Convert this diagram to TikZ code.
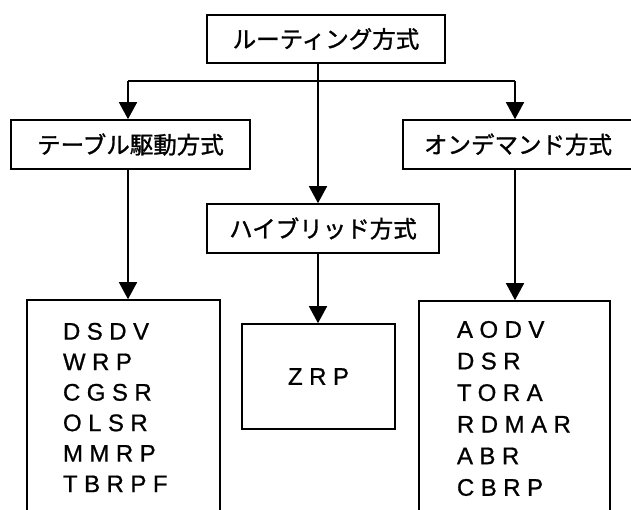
\documentclass[tikz,border=0pt]{standalone}
\usepackage{fontspec}
\setmainfont{Liberation Sans}
\newfontfamily\jpfont[FakeBold=1.2]{Noto Sans CJK JP}
\newfontfamily\listfont[LetterSpace=27,FakeBold=0.8]{Liberation Sans}
\usetikzlibrary{arrows.meta}
\begin{document}
\begin{tikzpicture}[x=1pt,y=-1pt,
  box/.style={draw, line width=1.6pt, inner sep=0pt, font=\jpfont\fontsize{23.5pt}{23.5pt}\selectfont},
  listbox/.style={draw, line width=1.6pt, inner ysep=0pt, align=left, font=\listfont\fontsize{24pt}{30.5pt}\selectfont},
  conn/.style={line width=1.6pt},
  arr/.style={line width=1.6pt, -{Triangle[width=18pt,length=17pt]}}]
\useasboundingbox (0,0) rectangle (631,510);
\fill[white] (0,0) rectangle (631,510);

\node[box, minimum width=238pt, minimum height=48pt] (top) at (326,39) {ルーティング方式};
\node[box, minimum width=239pt, minimum height=49pt] (tbl) at (130.5,144.5) {テーブル駆動方式};
\node[box, minimum width=230pt, minimum height=49pt] (ond) at (518,144.5) {オンデマンド方式};
\node[box, minimum width=232pt, minimum height=49pt] (hyb) at (323,228.5) {ハイブリッド方式};

\node[listbox, inner xsep=36pt, text width=121pt, minimum height=215pt] (lstL) at (123.5,407.5)
  {DSDV\\WRP\\CGSR\\OLSR\\MMRP\\TBRPF};
\node[draw, line width=1.6pt, minimum width=153pt, minimum height=105pt, font=\listfont\fontsize{24pt}{24pt}\selectfont] (zrp) at (318.5,376.5) {ZRP};
\node[listbox, inner xsep=38pt, text width=115pt, minimum height=215pt, font=\listfont\fontsize{24pt}{31.6pt}\selectfont] (lstR) at (514.5,408.5)
  {AODV\\DSR\\TORA\\RDMAR\\ABR\\CBRP};

\coordinate (j) at (318,81);
\coordinate (jl) at (128,81);
\coordinate (jr) at (515,81);
\draw[conn] (top.south -| j) -- (j);
\draw[conn] (jl) -- (jr);
\draw[arr] (jl) -- (jl |- tbl.north);
\draw[arr] (jr) -- (jr |- ond.north);
\draw[arr] (j) -- (j |- hyb.north);
\draw[arr] (tbl.south -| jl) -- (jl |- lstL.north);
\draw[arr] (ond.south -| jr) -- (jr |- lstR.north);
\draw[arr] (hyb.south -| j) -- (j |- zrp.north);
\end{tikzpicture}
\end{document}
